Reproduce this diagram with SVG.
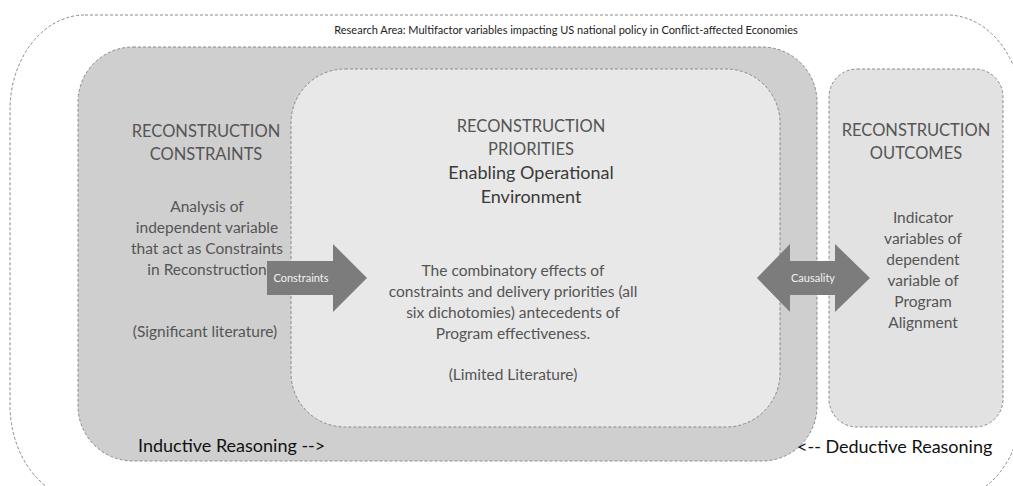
<svg xmlns="http://www.w3.org/2000/svg" width="1013" height="486" viewBox="0 0 1013 486">
<style>
.box{stroke:#8a8a8a;stroke-width:1;stroke-dasharray:3 2}
.t{font-family:Lato,"Liberation Sans",sans-serif;text-anchor:middle}
.h{font-size:16.5px;fill:#555}
.e{font-size:18px;fill:#3a3a3a}
.b{font-size:15.5px;fill:#555}
.al{font-size:11px;fill:#f2f2f2}
.r{font-size:18px;fill:#111;font-family:Lato,"Liberation Sans",sans-serif}
.arrow{fill:#7c7c7c}
</style>
<rect width="1013" height="486" fill="#ffffff"/>
<g id="research-area">
<rect class="box" x="10" y="15" width="1012" height="485" rx="75" ry="95" fill="#ffffff"/>
<text class="t" x="566" y="34" font-size="11" fill="#222">Research Area: Multifactor variables impacting US national policy in Conflict-affected Economies</text>
</g>
<g id="constraints">
<rect class="box" x="78" y="47" width="739" height="414" rx="55" ry="55" fill="#cfcfcf"/>
<text class="t h" x="206" y="137">RECONSTRUCTION</text>
<text class="t h" x="206" y="160">CONSTRAINTS</text>
<text class="t b" x="207" y="212">Analysis of</text>
<text class="t b" x="207" y="233">independent variable</text>
<text class="t b" x="207" y="254">that act as Constraints</text>
<text class="t b" x="207" y="275">in Reconstruction</text>
<text class="t b" x="205" y="337">(Significant literature)</text>
<text class="r" x="138" y="452">Inductive Reasoning --&gt;</text>
</g>
<g id="priorities">
<rect class="box" x="291" y="69" width="489" height="358" rx="54" ry="54" fill="#e8e8e8"/>
<text class="t h" x="531" y="132">RECONSTRUCTION</text>
<text class="t h" x="531" y="155">PRIORITIES</text>
<text class="t e" x="531" y="179">Enabling Operational</text>
<text class="t e" x="531" y="203">Environment</text>
<text class="t b" x="513" y="276">The combinatory effects of</text>
<text class="t b" x="513" y="297">constraints and delivery priorities (all</text>
<text class="t b" x="513" y="318">six dichotomies) antecedents of</text>
<text class="t b" x="513" y="339">Program effectiveness.</text>
<text class="t b" x="513" y="380">(Limited Literature)</text>
</g>
<g id="outcomes">
<rect class="box" x="829" y="69" width="174" height="358" rx="28" ry="28" fill="#e2e2e2"/>
<text class="t h" x="916" y="136">RECONSTRUCTION</text>
<text class="t h" x="916" y="159">OUTCOMES</text>
<text class="t b" x="923" y="223">Indicator</text>
<text class="t b" x="923" y="244">variables of</text>
<text class="t b" x="923" y="265">dependent</text>
<text class="t b" x="923" y="286">variable of</text>
<text class="t b" x="923" y="307">Program</text>
<text class="t b" x="923" y="328">Alignment</text>
<text class="r" x="797" y="453">&lt;-- Deductive Reasoning</text>
</g>
<g id="connectors">
<g id="constraints-arrow">
<polygon class="arrow" points="267,261 333,261 333,244 367,278 333,312 333,295 267,295"/>
<text class="t al" x="301" y="282">Constraints</text>
</g>
<g id="causality-arrow">
<polygon class="arrow" points="757,278 790,244 790,261 835,261 835,244 870,278 835,312 835,295 790,295 790,312"/>
<text class="t al" x="813" y="282">Causality</text>
</g>
</g>
</svg>
